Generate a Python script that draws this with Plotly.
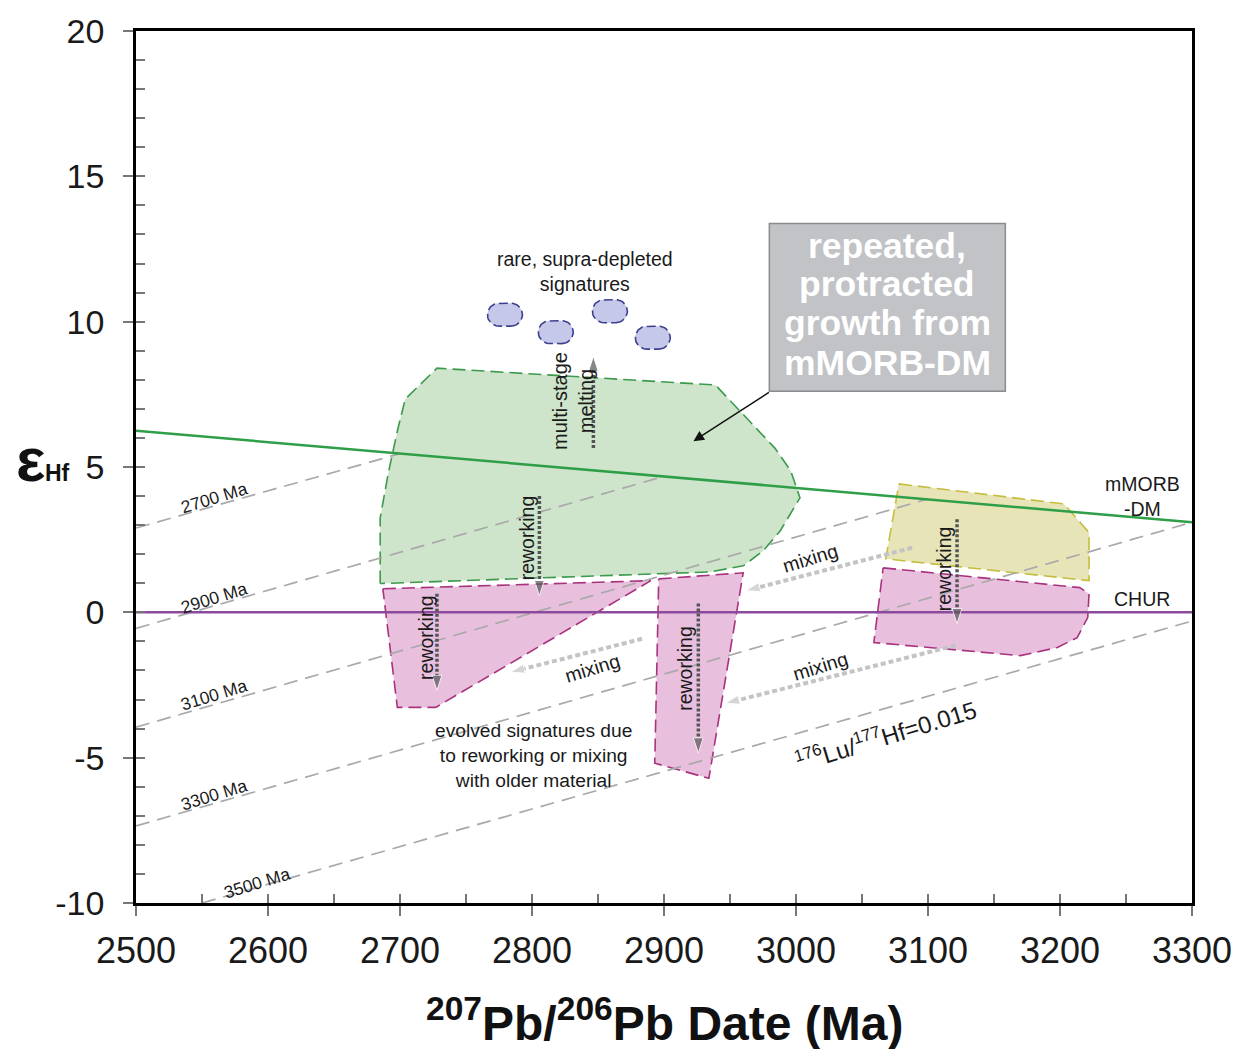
import numpy as np
import plotly.graph_objects as go

# ---------------- data ----------------
x_range = [2500, 3300]
y_range = [-10, 20]
x_tickvals = [2500, 2600, 2700, 2800, 2900, 3000, 3100, 3200, 3300]
x_ticktext = ["2500", "2600", "2700", "2800", "2900", "3000", "3100", "3200", "3300"]
y_tickvals = [-10, -5, 0, 5, 10, 15, 20]
y_ticktext = ["-10", "-5", "0", "5", "10", "15", "20"]

# reference evolution lines
dm_x = [2500, 3300]
dm_y = [6.25, 3.1]
chur_x = [2500, 3300]
chur_y = [0.0, 0.0]

# crustal evolution lines (176Lu/177Hf = 0.015) by model age
evo_labels = ["2700 Ma", "2900 Ma", "3100 Ma", "3300 Ma", "3500 Ma"]
evo_x0 = [2500, 2500, 2500, 2500, 2550]
evo_y0 = [2.9, -0.55, -3.95, -7.35, -10.0]
evo_x1 = [2700, 2900, 3100, 3300, 3300]
evo_y1 = [5.46, 4.68, 3.9, 3.1, -0.3]
evo_label_x = [2559, 2559, 2559, 2559, 2592]
evo_label_y = [3.95, 0.5, -2.86, -6.29, -9.32]

# fields
green_x = [2685, 2685, 2691, 2698, 2704, 2728, 2939, 2984, 2996, 3003, 2988, 2975, 2960, 2935, 2685]
green_y = [0.99, 3.25, 4.76, 6.24, 7.34, 8.40, 7.82, 5.65, 4.87, 3.94, 2.80, 2.11, 1.60, 1.39, 0.99]
pink1_x = [2687, 2890, 2727, 2698, 2687]
pink1_y = [0.81, 1.09, -3.27, -3.27, 0.81]
pink2_x = [2896, 2960, 2934, 2893, 2896]
pink2_y = [1.15, 1.36, -5.71, -5.19, 1.15]
yellow_x = [3078, 3203, 3222, 3222, 3068, 3074, 3078]
yellow_y = [4.42, 3.73, 2.74, 1.09, 1.84, 3.39, 4.42]
pink3_x = [3066, 3215, 3222, 3221, 3213, 3198, 3170, 3059, 3066]
pink3_y = [1.53, 0.85, 0.64, -0.18, -0.87, -1.21, -1.49, -1.04, 1.53]

# supra-depleted blobs (centres)
blob_x = [2779.5, 2818.0, 2859.0, 2891.5]
blob_y = [10.24, 9.64, 10.36, 9.45]

# reworking / melting arrows (dark)
rw_x = [2805.6, 2728.0, 2926.0, 3122.0, 2846.5]
rw_y0 = [4.0, 0.64, 0.30, 3.2, 5.65]
rw_y1 = [0.57, -2.69, -4.84, -0.39, 8.81]

# mixing arrows (light)
mx_x0 = [3088, 2883.4, 3120.8]
mx_y0 = [2.22, -0.91, -1.14]
mx_x1 = [2962, 2783.6, 2946.5]
mx_y1 = [0.745, -2.06, -3.13]

# box text lines
box_lines = ["repeated,", "protracted", "growth from", "mMORB-DM"]
box_line_y = [12.59, 11.28, 9.95, 8.57]

# ---------------- figure ----------------
FONT = "Liberation Sans, Arial, sans-serif"
W, H = 1249, 1049
L, R, T, B = 136, 57, 29, 146
pw, ph = W - L - R, H - T - B
px_per_x = pw / (x_range[1] - x_range[0])
px_per_y = ph / (y_range[1] - y_range[0])

fig = go.Figure()

def poly(xs, ys, fill, line):
    fig.add_trace(go.Scatter(x=xs, y=ys, mode="lines", fill="toself", fillcolor=fill,
                             line=dict(color=line, width=1.6, dash="13px,6px"),
                             hoverinfo="skip", showlegend=False))

poly(green_x, green_y, "rgb(206,229,203)", "#3c9a4c")
poly(pink1_x, pink1_y, "rgb(232,192,222)", "#a8327e")
poly(pink2_x, pink2_y, "rgb(232,192,222)", "#a8327e")
poly(yellow_x, yellow_y, "rgb(231,228,184)", "#c6bd3e")
poly(pink3_x, pink3_y, "rgb(232,192,222)", "#a8327e")

# blobs as stadium outlines
bw_px, bh_px = 35.0, 23.0
r_px = bh_px / 2
a_px = bw_px / 2 - r_px
th_r = np.linspace(-np.pi / 2, np.pi / 2, 25)
th_l = np.linspace(np.pi / 2, 3 * np.pi / 2, 25)
for cx, cy in zip(blob_x, blob_y):
    xs = np.concatenate([cx + (a_px + r_px * np.cos(th_r)) / px_per_x,
                         cx + (-a_px + r_px * np.cos(th_l)) / px_per_x])
    ys = np.concatenate([cy + r_px * np.sin(th_r) / px_per_y,
                         cy + r_px * np.sin(th_l) / px_per_y])
    xs = np.append(xs, xs[0]); ys = np.append(ys, ys[0])
    fig.add_trace(go.Scatter(x=xs, y=ys, mode="lines", fill="toself",
                             fillcolor="rgb(198,200,234)",
                             line=dict(color="#3d3f8f", width=1.6, dash="9px,4px"),
                             hoverinfo="skip", showlegend=False))

# evolution dashed lines
for x0, y0, x1, y1 in zip(evo_x0, evo_y0, evo_x1, evo_y1):
    fig.add_trace(go.Scatter(x=[x0, x1], y=[y0, y1], mode="lines",
                             line=dict(color="#a9a9a9", width=1.7, dash="14px,8px"),
                             hoverinfo="skip", showlegend=False))

# DM and CHUR
fig.add_trace(go.Scatter(x=dm_x, y=dm_y, mode="lines", line=dict(color="#2f9e48", width=2.5),
                         hoverinfo="skip", showlegend=False))
fig.add_trace(go.Scatter(x=chur_x, y=chur_y, mode="lines", line=dict(color="#8c4a9c", width=2.5),
                         hoverinfo="skip", showlegend=False))

# mixing arrows
for x0, y0, x1, y1 in zip(mx_x0, mx_y0, mx_x1, mx_y1):
    fig.add_trace(go.Scatter(x=[x0, x1], y=[y0, y1], mode="lines+markers",
                             line=dict(color="#c4c4c4", width=4, dash="5px,3px"),
                             marker=dict(symbol=["circle", "arrow"], size=[0, 15],
                                         angleref="previous", color="#c4c4c4"),
                             hoverinfo="skip", showlegend=False))

# reworking arrows
for x, y0, y1 in zip(rw_x, rw_y0, rw_y1):
    fig.add_trace(go.Scatter(x=[x, x], y=[y0, y1], mode="lines+markers",
                             line=dict(color="#555555", width=3.5, dash="3px,2px"),
                             marker=dict(symbol=["circle", "arrow"], size=[0, 16],
                                         angleref="previous", color="#555555"),
                             hoverinfo="skip", showlegend=False))

# dummy trace for inner-tick axes
fig.add_trace(go.Scatter(x=[None], y=[None], xaxis="x2", yaxis="y2", showlegend=False))

ann = []
def txt(x, y, s, size=19, angle=0, color="#1a1a1a", bold=False):
    ann.append(dict(x=x, y=y, xref="x", yref="y", text=s, showarrow=False, textangle=angle,
                    xanchor="center", yanchor="middle",
                    font=dict(family=FONT, size=size, color=color,
                              weight="bold" if bold else "normal")))

for lab, lx, ly in zip(evo_labels, evo_label_x, evo_label_y):
    txt(lx, ly, lab, size=17.5, angle=-17)

txt(3067.7, -4.23, "<sup>176</sup>Lu/<sup>177</sup>Hf=0.015", size=24, angle=-17)
txt(3262.4, 4.0, "mMORB<br>-DM", size=19.5)
txt(3262.4, 0.47, "CHUR", size=19.5)
txt(2840.5, 11.72, "rare, supra-depleted<br>signatures", size=19.5)
txt(2831, 7.27, "multi-stage<br>melting", size=20, angle=-90)
txt(2801, -4.92, "evolved signatures due<br>to reworking or mixing<br>with older material", size=19.2)
txt(2796.5, 2.56, "reworking", size=19.5, angle=-90)
txt(2719.2, -0.87, "reworking", size=19.5, angle=-90)
txt(2916.2, -1.93, "reworking", size=19.5, angle=-90)
txt(3111.7, 1.5, "reworking", size=19.5, angle=-90)
txt(3010.8, 1.88, "mixing", size=19.5, angle=-17)
txt(2845.8, -1.9, "mixing", size=19.5, angle=-17)
txt(3018.5, -1.83, "mixing", size=19.5, angle=-17)

# grey box
fig.add_shape(type="rect", x0=2979.8, x1=3158.6, y0=7.61, y1=13.38, xref="x", yref="y",
              fillcolor="rgb(193,195,198)", line=dict(color="#8a8c8e", width=1.5), layer="above")
for s, ly in zip(box_lines, box_line_y):
    txt(3069.2, ly, s, size=35.5, color="white", bold=True)

# black arrow from box
ann.append(dict(x=2922.3, y=5.89, ax=2980.6, ay=7.6, xref="x", yref="y", axref="x", ayref="y",
                text="", showarrow=True, arrowhead=2, arrowsize=1.4, arrowwidth=1.5, arrowcolor="#111"))

# axis titles
ann.append(dict(x=0.5, y=(H - B - 1020) / ph, xref="paper", yref="paper",
                text="<b><sup>207</sup>Pb/<sup>206</sup>Pb Date (Ma)</b>", showarrow=False,
                font=dict(family=FONT, size=48, color="#111"), xanchor="center", yanchor="middle"))
ann.append(dict(x=(30 - L) / pw, y=(H - B - 458) / ph, xref="paper", yref="paper",
                text="<b>ε</b>", showarrow=False, font=dict(family=FONT, size=62, color="#111"),
                xanchor="center", yanchor="middle"))
ann.append(dict(x=(57 - L) / pw, y=(H - B - 472) / ph, xref="paper", yref="paper",
                text="<b>Hf</b>", showarrow=False, font=dict(family=FONT, size=23, color="#111"),
                xanchor="center", yanchor="middle"))

axis_common = dict(showgrid=False, zeroline=False)
fig.update_layout(
    width=W, height=H,
    margin=dict(l=L, r=R, t=T, b=B, pad=0),
    paper_bgcolor="white", plot_bgcolor="white",
    showlegend=False,
    annotations=ann,
    xaxis=dict(range=x_range, tickvals=x_tickvals, ticktext=x_ticktext, ticks="outside",
               ticklen=10, tickwidth=2, ticklabelstandoff=4,
               tickcolor="#777", showline=True, linecolor="black", linewidth=2.5, mirror=True,
               tickfont=dict(family=FONT, size=36, color="#1a1a1a"), **axis_common),
    yaxis=dict(range=y_range, tickvals=y_tickvals, ticktext=y_ticktext, ticks="outside",
               ticklen=10, tickwidth=2, ticklabelstandoff=12,
               tickcolor="#777", showline=True, linecolor="black", linewidth=2.5, mirror=True,
               tickfont=dict(family=FONT, size=34, color="#1a1a1a"), **axis_common),
    xaxis2=dict(range=x_range, overlaying="x", anchor="y2", side="bottom", tick0=2500, dtick=50,
                ticks="inside", ticklen=9, tickwidth=2, tickcolor="#777", showticklabels=False,
                showline=False, **axis_common),
    yaxis2=dict(range=y_range, overlaying="y", anchor="x2", side="left", tick0=-10, dtick=1,
                ticks="inside", ticklen=9, tickwidth=2, tickcolor="#777", showticklabels=False,
                showline=False, **axis_common),
)

fig.write_html("out.html")
